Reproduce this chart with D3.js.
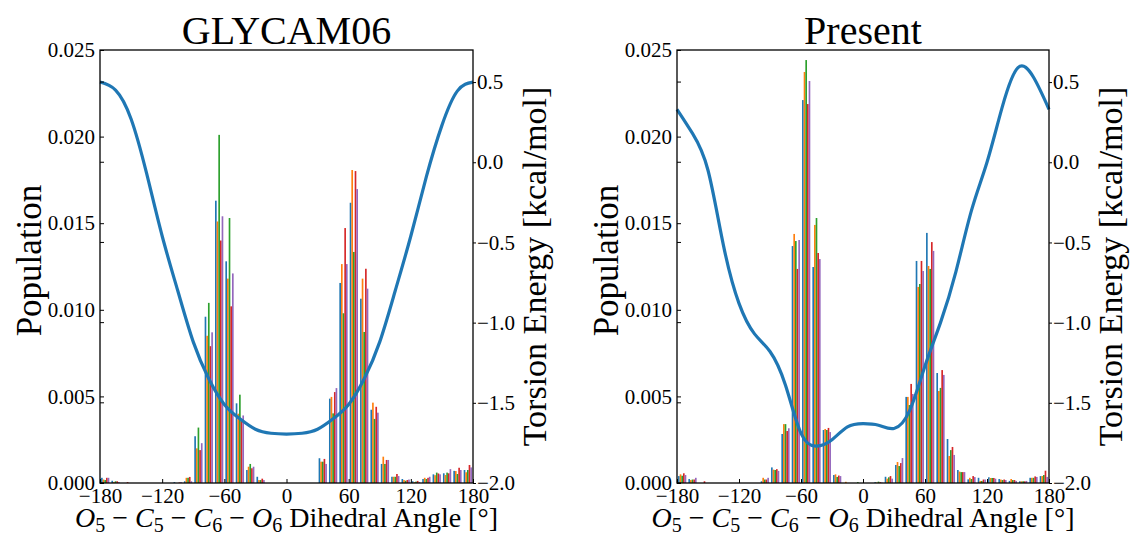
<!DOCTYPE html>
<html>
<head>
<meta charset="utf-8">
<script src="https://cdn.jsdelivr.net/npm/d3@7"></script>
<style>
  body { margin: 0; background: #fff; }
  svg { display: block; }
  svg text { font-family: "Liberation Serif", "Times New Roman", serif; }
</style>
</head>
<body>
<div id="chart"></div>
<script>
// left edges of the 10-degree histogram bins
const binEdges = [-180, -170, -160, -150, -140, -130, -120, -110, -100, -90, -80, -70,
                  -60, -50, -40, -30, -20, -10, 0, 10, 20, 30, 40, 50,
                  60, 70, 80, 90, 100, 110, 120, 130, 140, 150, 160, 170];
const binWidth = 10;

// GLYCAM06 populations, five runs
const glycamRun1 = [0.0003, 0.00013, 0, 0, 0, 0, 0, 0.00005, 0.0001, 0.0027, 0.0096, 0.0163,
                    0.0128, 0.0046, 0.00075, 0.00036, 0, 0, 0, 0, 0, 0.00143, 0.00487, 0.01155,
                    0.01618, 0.01064, 0.00423, 0.0011, 0.00036, 0.00023, 0.0001, 0.00023, 0.0005, 0.00056, 0.0007, 0.00075];
const glycamRun2 = [0.0002, 0.00006, 0, 0, 0, 0, 0, 0, 0.0003, 0.0020, 0.0085, 0.0151,
                    0.0118, 0.0040, 0.00094, 0.00017, 0, 0, 0, 0, 0, 0.00123, 0.00497, 0.01264,
                    0.01807, 0.0118, 0.00464, 0.00152, 0.00036, 0.00017, 0.00005, 0.0003, 0.00045, 0.00046, 0.00069, 0.00062];
const glycamRun3 = [0.00017, 0.0001, 0, 0, 0, 0, 0, 0, 0.0003, 0.0032, 0.0104, 0.0201,
                    0.0153, 0.0051, 0.0011, 0.00017, 0, 0, 0, 0, 0, 0.00123, 0.00402, 0.0098,
                    0.01334, 0.00872, 0.0037, 0.0011, 0.00036, 0.00013, 0.00008, 0.00023, 0.0006, 0.0006, 0.00052, 0.00075];
const glycamRun4 = [0.0003, 0.0001, 0.00005, 0, 0, 0, 0, 0.00003, 0.00035, 0.0019, 0.0079, 0.0140,
                    0.0102, 0.0037, 0.00085, 0.00025, 0, 0, 0, 0, 0, 0.00139, 0.00525, 0.01472,
                    0.01801, 0.01237, 0.0044, 0.00133, 0.00052, 0.00017, 0.00012, 0.0003, 0.00055, 0.00056, 0.00088, 0.00104];
const glycamRun5 = [0.0003, 0.00005, 0, 0, 0, 0, 0, 0.00005, 0.0001, 0.0023, 0.0087, 0.0154,
                    0.0121, 0.0039, 0.00094, 0.00017, 0, 0, 0, 0, 0, 0.0011, 0.00548, 0.01264,
                    0.01697, 0.01122, 0.00406, 0.00133, 0.0004, 0.0002, 0.00006, 0.00036, 0.0005, 0.0008, 0.00075, 0.0009];

// Present populations, five runs
const presentRun1 = [0.0004, 0.00023, 0, 0, 0, 0, 0, 0, 0.0001, 0.0009, 0.00283, 0.01368,
                     0.02211, 0.01247, 0.00306, 0.00046, 0, 0, 0, 0.00005, 0.00036, 0.00104, 0.00497, 0.01282,
                     0.01444, 0.00635, 0.00254, 0.00075, 0.00021, 0.0003, 0.00033, 0.00023, 0.00012, 0.0001, 0.0003, 0.0004];
const presentRun2 = [0.0005, 0.00017, 0, 0, 0, 0, 0, 0, 0.0003, 0.00077, 0.0034, 0.01438,
                     0.02373, 0.0149, 0.00312, 0.0005, 0.00007, 0, 0, 0.00003, 0.00025, 0.00121, 0.00497, 0.01132,
                     0.01253, 0.00531, 0.00156, 0.00066, 0.0003, 0.00012, 0.00029, 0.0002, 0.00023, 0.0001, 0.0003, 0.0004];
const presentRun3 = [0.00042, 0.0002, 0, 0, 0, 0, 0, 0, 0.0002, 0.00075, 0.0034, 0.01397,
                     0.02442, 0.0153, 0.00306, 0.00035, 0, 0.00005, 0, 0.00008, 0.00033, 0.00098, 0.0045, 0.01149,
                     0.01236, 0.00549, 0.0019, 0.00063, 0.00023, 0.00012, 0.00029, 0.00017, 0.00017, 0.0001, 0.0003, 0.00046];
const presentRun4 = [0.00056, 0.0002, 0.0001, 0, 0, 0, 0, 0, 0.0002, 0.0008, 0.0030, 0.01236,
                     0.02188, 0.01328, 0.00318, 0.00043, 0, 0, 0, 0.00005, 0.0004, 0.00115, 0.00572, 0.01282,
                     0.01391, 0.00652, 0.00208, 0.00063, 0.0004, 0.0002, 0.00029, 0.0002, 0.00017, 0.0001, 0.00038, 0.00071];
const presentRun5 = [0.00046, 0.0003, 0, 0, 0, 0, 0, 0, 0.0003, 0.0007, 0.00316, 0.01403,
                     0.02321, 0.01293, 0.00294, 0.0004, 0, 0, 0, 0.00003, 0.00025, 0.00144, 0.00514, 0.01224,
                     0.0134, 0.00624, 0.00162, 0.00063, 0.00034, 0.0002, 0.00025, 0.00017, 0.00012, 0.00012, 0.00035, 0.00035];

// torsion energy profiles (kcal/mol) read at these angles
const energyAngles = [-180, -165, -150, -135, -120, -105, -90, -75, -60, -45, -30, -15, 0,
                      15, 30, 45, 60, 75, 90, 105, 120, 135, 150, 165, 180];
const glycamEnergy = [0.50, 0.45, 0.27, -0.07, -0.46, -0.80, -1.12, -1.35, -1.51, -1.60, -1.665, -1.69, -1.695,
                      -1.69, -1.665, -1.60, -1.51, -1.35, -1.12, -0.80, -0.46, -0.09, 0.23, 0.445, 0.50];
const presentEnergy = [0.33, 0.18, -0.05, -0.52, -0.88, -1.07, -1.18, -1.39, -1.69, -1.77, -1.73, -1.65, -1.63,
                       -1.64, -1.66, -1.55, -1.27, -1.00, -0.68, -0.30, 0.00, 0.35, 0.59, 0.53, 0.33];

// tick labels
const angleTicks = [-180, -120, -60, 0, 60, 120, 180];
const popTicks = [0, 0.005, 0.010, 0.015, 0.020, 0.025];
const energyTicks = [-2.0, -1.5, -1.0, -0.5, 0.0, 0.5];

const width = 1131, height = 536;
const plotTop = 50, plotBottom = 483;
const serif = "Liberation Serif, Times New Roman, serif";
const runColors = ["#1f77b4", "#ff7f0e", "#2ca02c", "#d62728", "#9467bd"];

const svg = d3.select("#chart")
    .append("svg")
    .attr("width", width)
    .attr("height", height);

function drawPanel(p) {
    const g = svg.append("g");

    const x = d3.scaleLinear().domain([-180, 180]).range([p.left, p.right]);
    const yPop = d3.scaleLinear().domain([0, 0.025]).range([plotBottom, plotTop]);
    const yEn = d3.scaleLinear().domain([-2.0, 0.7]).range([plotBottom, plotTop]);

    // grouped histogram bars: 80% of the bin shared by the five runs
    const barW = binWidth * 0.8 / p.runs.length;
    p.runs.forEach((run, s) => {
        g.append("g").selectAll("rect")
            .data(run)
            .join("rect")
            .attr("x", (v, i) => x(binEdges[i] + binWidth * 0.1 + s * barW))
            .attr("y", v => yPop(v))
            .attr("width", x(barW) - x(0))
            .attr("height", v => yPop(0) - yPop(v))
            .attr("fill", runColors[s]);
    });

    // torsion energy curve
    const line = d3.line()
        .x(d => x(d[0]))
        .y(d => yEn(d[1]))
        .curve(d3.curveNatural);
    g.append("path")
        .datum(energyAngles.map((a, i) => [a, p.energy[i]]))
        .attr("d", line)
        .attr("fill", "none")
        .attr("stroke", "#1f77b4")
        .attr("stroke-width", 3.2);

    // axes
    const xAxis = g.append("g")
        .attr("transform", `translate(0,${plotBottom})`)
        .call(d3.axisBottom(x).tickValues(angleTicks).tickSizeInner(-4).tickSizeOuter(0)
            .tickPadding(5).tickFormat(d3.format("d")));
    const yAxis = g.append("g")
        .attr("transform", `translate(${p.left},0)`)
        .call(d3.axisLeft(yPop).tickValues(popTicks).tickSizeInner(-4).tickSizeOuter(0)
            .tickPadding(5).tickFormat(d3.format(".3f")));
    const y2Axis = g.append("g")
        .attr("transform", `translate(${p.right},0)`)
        .call(d3.axisRight(yEn).tickValues(energyTicks).tickSizeInner(3).tickSizeOuter(0)
            .tickPadding(1).tickFormat(d3.format(".1f")));

    [xAxis, yAxis, y2Axis].forEach(a => {
        a.select(".domain").remove();
        a.attr("font-family", serif).attr("font-size", 21);
        a.selectAll("text").attr("fill", "#000").attr("font-family", serif);
        a.selectAll("line").attr("stroke", "#000").attr("stroke-width", 1);
    });

    // twin-axis ticks repeated on the left spine
    g.append("g").selectAll("line")
        .data(energyTicks)
        .join("line")
        .attr("x1", p.left).attr("x2", p.left + 4)
        .attr("y1", d => yEn(d)).attr("y2", d => yEn(d))
        .attr("stroke", "#000");

    // frame
    g.append("rect")
        .attr("x", p.left).attr("y", plotTop)
        .attr("width", p.right - p.left).attr("height", plotBottom - plotTop)
        .attr("fill", "none").attr("stroke", "#000").attr("stroke-width", 1.3);

    const cx = (p.left + p.right) / 2;

    // title
    g.append("text")
        .attr("x", cx).attr("y", 44)
        .attr("text-anchor", "middle")
        .attr("font-family", serif)
        .attr("font-size", 40)
        .text(p.title);

    // y labels
    g.append("text")
        .attr("transform", `translate(${p.left - 59},${(plotTop + plotBottom) / 2 - 6}) rotate(-90)`)
        .attr("text-anchor", "middle")
        .attr("font-family", serif)
        .attr("font-size", 35)
        .text("Population");
    g.append("text")
        .attr("transform", `translate(${p.right + 73},${(plotTop + plotBottom) / 2}) rotate(-90)`)
        .attr("text-anchor", "middle")
        .attr("font-family", serif)
        .attr("font-size", 34)
        .text("Torsion Energy [kcal/mol]");

    // x label with math-style subscripts
    const xl = g.append("text")
        .attr("x", cx).attr("y", 527)
        .attr("text-anchor", "middle")
        .attr("font-family", serif)
        .attr("font-size", 28);
    const atoms = [["O", "5"], ["C", "5"], ["C", "6"], ["O", "6"]];
    atoms.forEach((a, k) => {
        if (k > 0) xl.append("tspan").attr("dy", -5).text(" \u2212 ");
        xl.append("tspan").attr("font-style", "italic").text(a[0]);
        xl.append("tspan").attr("font-size", 20).attr("dy", 5).text(a[1]);
    });
    xl.append("tspan").attr("dy", -5).text(" Dihedral Angle [\u00b0]");
}

drawPanel({
    title: "GLYCAM06", left: 100, right: 473,
    runs: [glycamRun1, glycamRun2, glycamRun3, glycamRun4, glycamRun5],
    energy: glycamEnergy
});
drawPanel({
    title: "Present", left: 677, right: 1049,
    runs: [presentRun1, presentRun2, presentRun3, presentRun4, presentRun5],
    energy: presentEnergy
});
</script>
</body>
</html>
